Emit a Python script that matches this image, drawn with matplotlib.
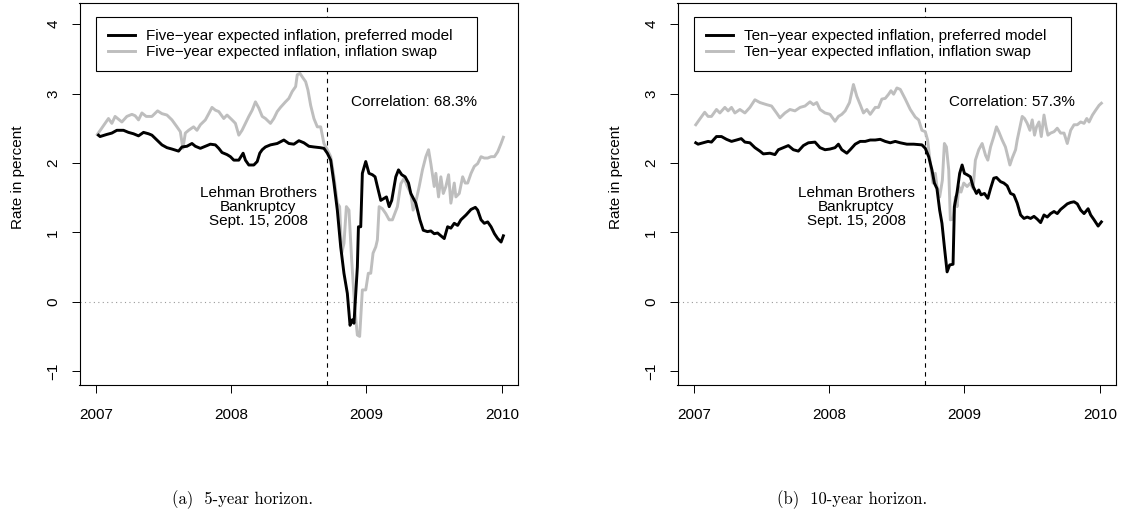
import numpy as np
import matplotlib
matplotlib.use("Agg")
import matplotlib.pyplot as plt

plt.rcParams['font.family'] = ['Liberation Sans', 'DejaVu Sans']
plt.rcParams['font.size'] = 11

# ---- 5-year horizon (panel a) ----
five_model_x = [2007.020, 2007.032, 2007.081, 2007.119, 2007.156, 2007.205, 2007.242, 2007.279, 2007.316, 2007.353,
                2007.390, 2007.415, 2007.452, 2007.489, 2007.526, 2007.563, 2007.612, 2007.637, 2007.674, 2007.711,
                2007.736, 2007.773, 2007.810, 2007.847, 2007.884, 2007.909, 2007.933, 2007.970, 2007.995, 2008.020,
                2008.057, 2008.089, 2008.106, 2008.131, 2008.168, 2008.193, 2008.212, 2008.230, 2008.254, 2008.291,
                2008.341, 2008.390, 2008.427, 2008.464, 2008.501, 2008.538, 2008.575, 2008.612, 2008.657, 2008.686,
                2008.711, 2008.736, 2008.760, 2008.785, 2008.810, 2008.834, 2008.859, 2008.879, 2008.896, 2008.908,
                2008.933, 2008.941, 2008.958, 2008.970, 2008.995, 2009.019, 2009.044, 2009.064, 2009.081, 2009.106,
                2009.131, 2009.148, 2009.168, 2009.187, 2009.217, 2009.237, 2009.261, 2009.286, 2009.311, 2009.328,
                2009.365, 2009.395, 2009.420, 2009.451, 2009.476, 2009.501, 2009.526, 2009.550, 2009.575, 2009.600,
                2009.624, 2009.649, 2009.674, 2009.698, 2009.736, 2009.773, 2009.805, 2009.822, 2009.847, 2009.871,
                2009.896, 2009.921, 2009.946, 2009.970, 2009.995, 2010.012]
five_model_y = [2.40, 2.38, 2.41, 2.43, 2.47, 2.47, 2.44, 2.42, 2.39, 2.44,
                2.42, 2.40, 2.33, 2.26, 2.22, 2.20, 2.17, 2.23, 2.24, 2.28,
                2.24, 2.21, 2.24, 2.27, 2.26, 2.21, 2.15, 2.12, 2.09, 2.04,
                2.04, 2.14, 2.04, 1.97, 1.97, 2.02, 2.14, 2.19, 2.23, 2.26,
                2.28, 2.33, 2.28, 2.27, 2.32, 2.29, 2.24, 2.23, 2.22, 2.21,
                2.14, 2.04, 1.71, 1.32, 0.79, 0.41, 0.12, -0.34, -0.26, -0.31,
                0.50, 1.08, 1.08, 1.85, 2.02, 1.85, 1.83, 1.80, 1.66, 1.46,
                1.49, 1.51, 1.37, 1.46, 1.80, 1.90, 1.83, 1.80, 1.71, 1.56,
                1.42, 1.18, 1.03, 1.01, 1.02, 0.98, 0.99, 0.95, 0.91, 1.08,
                1.06, 1.13, 1.10, 1.18, 1.25, 1.33, 1.36, 1.32, 1.18, 1.13,
                1.15, 1.08, 0.98, 0.91, 0.86, 0.95]

five_swap_x = [2007.012, 2007.044, 2007.069, 2007.094, 2007.119, 2007.143, 2007.168, 2007.193, 2007.230, 2007.267,
               2007.291, 2007.316, 2007.341, 2007.373, 2007.415, 2007.457, 2007.489, 2007.526, 2007.563, 2007.600,
               2007.625, 2007.644, 2007.662, 2007.686, 2007.723, 2007.748, 2007.773, 2007.810, 2007.835, 2007.859,
               2007.884, 2007.909, 2007.946, 2007.970, 2008.007, 2008.032, 2008.057, 2008.081, 2008.106, 2008.131,
               2008.156, 2008.180, 2008.205, 2008.230, 2008.254, 2008.291, 2008.316, 2008.341, 2008.365, 2008.402,
               2008.427, 2008.452, 2008.477, 2008.489, 2008.509, 2008.526, 2008.551, 2008.568, 2008.588, 2008.612,
               2008.637, 2008.662, 2008.686, 2008.711, 2008.736, 2008.760, 2008.785, 2008.802, 2008.817, 2008.834,
               2008.852, 2008.871, 2008.891, 2008.915, 2008.933, 2008.950, 2008.970, 2008.995, 2009.014, 2009.032,
               2009.049, 2009.069, 2009.081, 2009.094, 2009.118, 2009.143, 2009.168, 2009.192, 2009.229, 2009.254,
               2009.279, 2009.303, 2009.328, 2009.345, 2009.365, 2009.390, 2009.414, 2009.439, 2009.459, 2009.476,
               2009.501, 2009.513, 2009.533, 2009.550, 2009.568, 2009.587, 2009.607, 2009.624, 2009.649, 2009.661,
               2009.686, 2009.711, 2009.730, 2009.748, 2009.773, 2009.797, 2009.822, 2009.847, 2009.871, 2009.896,
               2009.921, 2009.946, 2009.970, 2009.995, 2010.012]
five_swap_y = [2.41, 2.50, 2.57, 2.64, 2.57, 2.67, 2.63, 2.59, 2.67, 2.70,
               2.68, 2.62, 2.72, 2.67, 2.67, 2.75, 2.71, 2.69, 2.62, 2.52,
               2.45, 2.21, 2.43, 2.47, 2.52, 2.47, 2.55, 2.62, 2.71, 2.80,
               2.76, 2.74, 2.64, 2.69, 2.62, 2.57, 2.40, 2.47, 2.57, 2.67,
               2.76, 2.88, 2.79, 2.67, 2.64, 2.57, 2.64, 2.74, 2.80, 2.88,
               2.93, 3.03, 3.10, 3.27, 3.29, 3.24, 3.17, 3.05, 2.83, 2.64,
               2.52, 2.52, 2.28, 2.19, 2.09, 1.80, 1.42, 1.37, 0.70, 0.84,
               1.37, 1.32, 0.60, -0.12, -0.48, -0.50, 0.17, 0.17, 0.41, 0.41,
               0.70, 0.79, 0.89, 1.37, 1.34, 1.27, 1.18, 1.18, 1.37, 1.70,
               1.78, 1.66, 1.56, 1.32, 1.44, 1.66, 1.90, 2.09, 2.19, 1.99,
               1.66, 1.85, 1.51, 1.80, 1.56, 1.66, 1.83, 1.42, 1.71, 1.51,
               1.56, 1.80, 1.71, 1.71, 1.85, 1.95, 1.99, 2.09, 2.07, 2.07,
               2.09, 2.09, 2.16, 2.28, 2.37]

# ---- 10-year horizon (panel b) ----
ten_model_x = [2007.015, 2007.032, 2007.069, 2007.106, 2007.131, 2007.168, 2007.205, 2007.242, 2007.279, 2007.316,
               2007.351, 2007.378, 2007.415, 2007.452, 2007.489, 2007.514, 2007.563, 2007.600, 2007.625, 2007.662,
               2007.699, 2007.736, 2007.773, 2007.810, 2007.847, 2007.896, 2007.933, 2007.970, 2008.007, 2008.044,
               2008.069, 2008.094, 2008.131, 2008.156, 2008.193, 2008.230, 2008.267, 2008.304, 2008.341, 2008.378,
               2008.415, 2008.452, 2008.489, 2008.526, 2008.575, 2008.625, 2008.686, 2008.711, 2008.736, 2008.760,
               2008.778, 2008.797, 2008.817, 2008.834, 2008.852, 2008.872, 2008.891, 2008.916, 2008.926, 2008.946,
               2008.965, 2008.983, 2009.000, 2009.020, 2009.044, 2009.064, 2009.089, 2009.106, 2009.123, 2009.148,
               2009.173, 2009.193, 2009.217, 2009.237, 2009.267, 2009.291, 2009.316, 2009.341, 2009.365, 2009.390,
               2009.415, 2009.440, 2009.464, 2009.489, 2009.514, 2009.538, 2009.563, 2009.588, 2009.612, 2009.637,
               2009.662, 2009.686, 2009.711, 2009.736, 2009.760, 2009.785, 2009.810, 2009.834, 2009.859, 2009.884,
               2009.914, 2009.933, 2009.958, 2009.988, 2010.012]
ten_model_y = [2.29, 2.27, 2.29, 2.31, 2.30, 2.38, 2.38, 2.34, 2.31, 2.33,
               2.35, 2.30, 2.29, 2.22, 2.17, 2.13, 2.14, 2.12, 2.19, 2.22,
               2.25, 2.19, 2.17, 2.25, 2.29, 2.30, 2.22, 2.19, 2.20, 2.22,
               2.27, 2.19, 2.14, 2.19, 2.27, 2.31, 2.31, 2.33, 2.33, 2.34,
               2.31, 2.29, 2.31, 2.29, 2.27, 2.27, 2.26, 2.21, 2.09, 1.90,
               1.71, 1.63, 1.32, 1.13, 0.79, 0.43, 0.53, 0.54, 1.37, 1.58,
               1.85, 1.97, 1.85, 1.83, 1.80, 1.66, 1.56, 1.61, 1.54, 1.56,
               1.49, 1.63, 1.78, 1.79, 1.73, 1.71, 1.67, 1.56, 1.54, 1.42,
               1.25, 1.20, 1.22, 1.20, 1.23, 1.19, 1.14, 1.25, 1.22, 1.27,
               1.30, 1.27, 1.33, 1.37, 1.41, 1.43, 1.44, 1.41, 1.32, 1.27,
               1.34, 1.25, 1.18, 1.09, 1.15]

ten_swap_x = [2007.015, 2007.044, 2007.081, 2007.106, 2007.131, 2007.168, 2007.193, 2007.230, 2007.254, 2007.279,
              2007.304, 2007.341, 2007.378, 2007.415, 2007.452, 2007.489, 2007.538, 2007.575, 2007.612, 2007.637,
              2007.674, 2007.711, 2007.748, 2007.786, 2007.822, 2007.859, 2007.884, 2007.909, 2007.933, 2007.970,
              2008.007, 2008.044, 2008.069, 2008.094, 2008.119, 2008.151, 2008.180, 2008.205, 2008.230, 2008.254,
              2008.279, 2008.304, 2008.341, 2008.365, 2008.390, 2008.415, 2008.440, 2008.457, 2008.477, 2008.501,
              2008.526, 2008.563, 2008.600, 2008.637, 2008.662, 2008.686, 2008.711, 2008.728, 2008.748, 2008.768,
              2008.785, 2008.797, 2008.817, 2008.837, 2008.852, 2008.867, 2008.884, 2008.896, 2008.916, 2008.933,
              2008.946, 2008.958, 2008.975, 2008.995, 2009.020, 2009.044, 2009.064, 2009.081, 2009.106, 2009.131,
              2009.156, 2009.173, 2009.193, 2009.217, 2009.237, 2009.254, 2009.279, 2009.303, 2009.321, 2009.336,
              2009.353, 2009.378, 2009.390, 2009.427, 2009.444, 2009.464, 2009.484, 2009.501, 2009.518, 2009.533,
              2009.551, 2009.568, 2009.588, 2009.603, 2009.617, 2009.637, 2009.662, 2009.686, 2009.711, 2009.736,
              2009.760, 2009.785, 2009.810, 2009.834, 2009.859, 2009.884, 2009.904, 2009.921, 2009.946, 2009.970,
              2009.995, 2010.012]
ten_swap_y = [2.55, 2.63, 2.73, 2.67, 2.67, 2.77, 2.72, 2.80, 2.75, 2.80,
              2.72, 2.77, 2.72, 2.80, 2.91, 2.87, 2.84, 2.82, 2.72, 2.65,
              2.72, 2.77, 2.75, 2.80, 2.82, 2.88, 2.84, 2.87, 2.77, 2.72,
              2.70, 2.60, 2.67, 2.70, 2.75, 2.87, 3.13, 2.96, 2.84, 2.72,
              2.77, 2.70, 2.80, 2.80, 2.92, 2.93, 2.99, 3.04, 2.99, 3.08,
              3.06, 2.92, 2.77, 2.66, 2.62, 2.47, 2.45, 2.33, 1.99, 1.71,
              1.85, 1.66, 1.51, 1.75, 2.28, 2.23, 1.90, 1.18, 1.19, 1.51,
              1.37, 1.66, 1.58, 1.71, 1.66, 1.71, 1.63, 2.04, 2.19, 2.28,
              2.11, 2.04, 2.23, 2.38, 2.52, 2.45, 2.33, 2.23, 2.09, 1.97,
              2.07, 2.19, 2.33, 2.67, 2.64, 2.57, 2.47, 2.62, 2.40, 2.52,
              2.59, 2.38, 2.69, 2.52, 2.40, 2.43, 2.45, 2.50, 2.43, 2.43,
              2.28, 2.47, 2.55, 2.55, 2.59, 2.57, 2.64, 2.59, 2.69, 2.76,
              2.83, 2.86]

year_ticks = [2007, 2008, 2009, 2010]
rate_ticks = [-1, 0, 1, 2, 3, 4]
lehman_date = 2008.706

W, H = 1123, 525
fig = plt.figure(figsize=(W / 100, H / 100), dpi=100)


def panel(left_px, mx, my, sx, sy, horizon, corr, caption, cap_x):
    ax = fig.add_axes([left_px / W, 140 / H, 438.5 / W, 381.7 / H])
    ax.axhline(0, color='#9a9a9a', lw=0.8, ls=(0, (1, 3)), zorder=1)
    ax.axvline(lehman_date, color='black', lw=0.8, ls=(0, (4, 4)), zorder=1)
    ax.plot(sx, sy, color='#bebebe', lw=2.1, solid_joinstyle='round',
            label=horizon + '\u2212year expected inflation, inflation swap   ', zorder=2)
    ax.plot(mx, my, color='black', lw=2.1, solid_joinstyle='round',
            label=horizon + '\u2212year expected inflation, preferred model   ', zorder=3)
    ax.set_xlim(2006.88, 2010.12)
    ax.set_ylim(-1.2, 4.3)
    ax.set_xticks(year_ticks)
    ax.set_xticklabels([str(y) for y in year_ticks])
    ax.set_yticks(rate_ticks)
    ax.set_yticklabels(['\u22121' if v < 0 else str(v) for v in rate_ticks],
                       rotation=90, va='center')
    ax.tick_params(direction='out', length=5.8, width=0.7, labelsize=11)
    ax.tick_params(axis='x', pad=10.5)
    ax.tick_params(axis='y', pad=8)
    for s in ax.spines.values():
        s.set_linewidth(0.8)

    h, l = ax.get_legend_handles_labels()
    leg = ax.legend(h[::-1], l[::-1], loc='upper left', bbox_to_anchor=(2007, 4.10),
                    bbox_transform=ax.transData, borderaxespad=0, fancybox=False,
                    framealpha=1, edgecolor='black', fontsize=11, labelspacing=0.12,
                    borderpad=0.78, handlelength=1.8, handletextpad=0.7)
    leg.get_frame().set_linewidth(0.8)
    leg.set_zorder(5)

    ax.text(2009.35, 2.88, 'Correlation: ' + corr, ha='center', va='center', fontsize=11)
    ax.text(2008.2, 1.37, 'Lehman Brothers\nBankruptcy\nSept. 15, 2008',
            ha='center', va='center', fontsize=11, linespacing=1.0)

    fig.text((left_px - 61.5) / W, 1 - 177 / H, 'Rate in percent', rotation=90,
             ha='center', va='center', fontsize=11)
    fig.text(cap_x / W, 1 - 500 / H, caption, ha='center', va='center',
             fontsize=12, family='cmr10')
    return ax


panel(79.5, five_model_x, five_model_y, five_swap_x, five_swap_y, 'Five', '68.3%',
      '(a)  5-year horizon.', 243)
panel(677.5, ten_model_x, ten_model_y, ten_swap_x, ten_swap_y, 'Ten', '57.3%',
      '(b)  10-year horizon.', 852)

fig.savefig('out.png', dpi=100)
